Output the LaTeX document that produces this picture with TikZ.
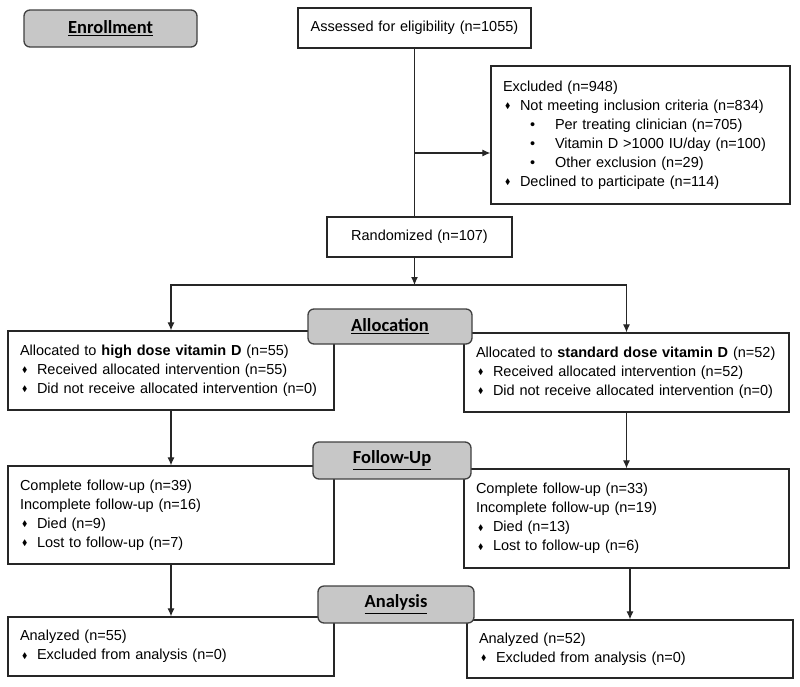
\documentclass[tikz,border=0pt]{standalone}
\usepackage{fontspec}
\usepackage{amssymb}
\usepackage{graphicx}
\setmainfont{Liberation Sans}
\newfontfamily\headfont{Carlito}
\usetikzlibrary{arrows.meta}
\newcommand{\dbul}{\makebox[17pt][l]{\hspace*{2pt}\raisebox{1.5pt}{\scalebox{0.55}{$\blacklozenge$}}}}
\newcommand{\cbul}{\hspace*{27pt}\makebox[25pt][l]{\textbullet}}
\newcommand{\flowBox}[6][left]{
  \node[box, align=#1, minimum height=#5pt, text width=#4pt-24pt] (#2) at (#3) {#6};
}
\newcommand{\stageBox}[5]{
  \node[stage, minimum width=#3pt, minimum height=#4pt] (#1) at (#2) {\underline{#5}};
}

\begin{document}
\begin{tikzpicture}[x=1pt, y=-1pt,
  box/.style={draw=black!85, line width=1.3pt, fill=white, inner xsep=12pt, inner ysep=0pt,
    font=\fontsize{14.5}{19}\selectfont},
  stage/.style={draw=black!75, fill=black!22, line width=1.3pt, rounded corners=6pt, inner sep=0pt,
    font=\headfont\fontsize{18.5}{22}\selectfont\bfseries},
  arr/.style={-{Latex[length=8pt,width=7pt]}, line width=1.1pt, draw=black!85}]
  \useasboundingbox (0,0) rectangle (800,686);

  % Enrollment
  \flowBox[center]{assess}{414.5,28}{233}{40}{Assessed for eligibility (n=1055)}
  \flowBox{excl}{640.5,135}{299}{138}{Excluded (n=948)\\
    \dbul Not meeting inclusion criteria (n=834)\\
    \cbul Per treating clinician (n=705)\\
    \cbul Vitamin D >1000 IU/day (n=100)\\
    \cbul Other exclusion (n=29)\\
    \dbul Declined to participate (n=114)}
  \flowBox[center]{rand}{419.5,237}{185}{40}{Randomized (n=107)}

  % Allocation
  \flowBox{allocHigh}{171,370.5}{326}{79}{Allocated to \textbf{high dose vitamin D} (n=55)\\
    \dbul Received allocated intervention (n=55)\\
    \dbul Did not receive allocated intervention (n=0)}
  \flowBox{allocStd}{626.5,372.5}{325}{79}{Allocated to \textbf{standard dose vitamin D} (n=52)\\
    \dbul Received allocated intervention (n=52)\\
    \dbul Did not receive allocated intervention (n=0)}

  % Follow-up
  \flowBox{fuHigh}{171,515}{326}{98}{Complete follow-up (n=39)\\
    Incomplete follow-up (n=16)\\
    \dbul Died (n=9)\\
    \dbul Lost to follow-up (n=7)}
  \flowBox{fuStd}{626.5,518.5}{325}{99}{Complete follow-up (n=33)\\
    Incomplete follow-up (n=19)\\
    \dbul Died (n=13)\\
    \dbul Lost to follow-up (n=6)}

  % Analysis
  \flowBox{anaHigh}{171,646.5}{326}{59}{Analyzed (n=55)\\
    \dbul Excluded from analysis (n=0)}
  \flowBox{anaStd}{630,649}{326}{58}{Analyzed (n=52)\\
    \dbul Excluded from analysis (n=0)}

  % Stage labels
  \stageBox{enroll}{110.5,28.5}{173}{37}{Enrollment}
  \stageBox{allocation}{390,326.5}{164}{35}{Allocation}
  \stageBox{followup}{392,460.5}{158}{37}{Follow-Up}
  \stageBox{analysis}{396,604.5}{156}{37}{Analysis}

  % Connectors
  \coordinate (branch) at (414.5,153);
  \coordinate (split) at (414.5,285);
  \draw[line width=1.1pt, draw=black!85] (assess) -- (rand.north -| assess);
  \draw[arr] (branch) -- (branch -| excl.west);
  \draw[arr] (rand.south -| split) -- (split);
  \draw[arr] (split) -| (allocHigh);
  \draw[arr] (split) -| (allocStd);
  \draw[arr] (allocHigh) -- (fuHigh);
  \draw[arr] (allocStd) -- (fuStd);
  \draw[arr] (fuHigh) -- (anaHigh);
  \draw[arr] (fuStd.south -| anaStd) -- (anaStd.north);

\end{tikzpicture}
\end{document}
